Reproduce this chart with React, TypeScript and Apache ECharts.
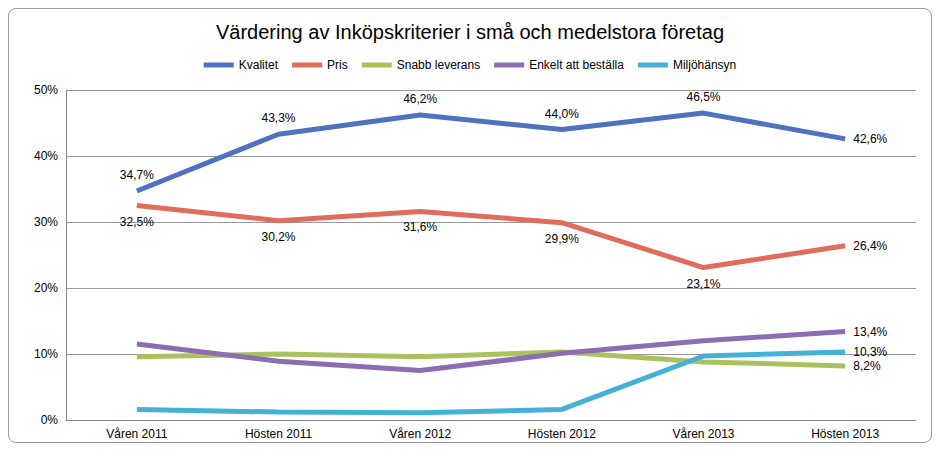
import React, { useEffect, useRef } from 'react';
import * as echarts from 'echarts';

const categories = ['Våren 2011', 'Hösten 2011', 'Våren 2012', 'Hösten 2012', 'Våren 2013', 'Hösten 2013'];
const kvalitet = [34.7, 43.3, 46.2, 44.0, 46.5, 42.6];
const pris = [32.5, 30.2, 31.6, 29.9, 23.1, 26.4];
const snabb = [9.6, 10.0, 9.6, 10.3, 8.8, 8.2];
const enkelt = [11.5, 8.9, 7.5, 10.1, 12.0, 13.4];
const miljo = [1.6, 1.2, 1.1, 1.6, 9.7, 10.3];

const fmt = (v: number) => v.toFixed(1).replace('.', ',') + '%';

const App: React.FC = () => {
  const chartRef = useRef<HTMLDivElement>(null);

  useEffect(() => {
    if (!chartRef.current) return;
    const chart = echarts.init(chartRef.current, undefined, { renderer: 'svg' });

    const labelAll = (pos: string) => ({
      show: true,
      position: pos,
      distance: 10,
      color: '#000',
      fontSize: 12,
      formatter: (p: any) => fmt(p.value),
    });
    const lastLabel = { show: true, position: 'right', distance: 8, color: '#000', fontSize: 12, formatter: (p: any) => fmt(p.value) };
    const lastOnly = (data: number[]) =>
      data.map((v, i) => (i === data.length - 1 ? { value: v, label: lastLabel } : v));

    const mk = (name: string, color: string, data: any[], label?: any) => ({
      name,
      type: 'line',
      data,
      symbol: 'circle',
      symbolSize: 0.1,
      showSymbol: true,
      lineStyle: { width: 5, color },
      itemStyle: { color },
      label: label || { show: false },
    });

    const kvData = kvalitet.map((v, i) => (i === 5 ? { value: v, label: { position: 'right', distance: 8 } } : v));
    const prData = pris.map((v, i) => (i === 5 ? { value: v, label: { position: 'right', distance: 8 } } : v));

    chart.setOption({
      animation: false,
      title: {
        text: 'Värdering av Inköpskriterier i små och medelstora företag',
        left: 'center',
        top: 8,
        textStyle: { fontSize: 20, fontWeight: 'normal', color: '#000', fontFamily: 'Liberation Sans' },
      },
      textStyle: { fontFamily: 'Liberation Sans' },
      legend: {
        top: 45,
        left: 'center',
        icon: 'rect',
        itemWidth: 30,
        itemHeight: 5,
        itemGap: 14,
        textStyle: { fontSize: 12, color: '#000' },
      },
      grid: { left: 57, right: 15, top: 81, bottom: 22 },
      xAxis: {
        type: 'category',
        data: categories,
        axisLine: { lineStyle: { color: '#888' } },
        axisTick: { show: false },
        axisLabel: { color: '#000', fontSize: 12 },
      },
      yAxis: {
        type: 'value',
        min: 0,
        max: 50,
        interval: 10,
        axisLine: { show: true, lineStyle: { color: '#888' } },
        splitLine: { lineStyle: { color: '#999' } },
        axisLabel: { color: '#000', fontSize: 12, formatter: '{value}%' },
      },
      series: [
        mk('Kvalitet', '#4f72be', kvData, labelAll('top')),
        mk('Pris', '#e06c5c', prData, labelAll('bottom')),
        mk('Snabb leverans', '#a9c25e', lastOnly(snabb)),
        mk('Enkelt att beställa', '#8c6db2', lastOnly(enkelt)),
        mk('Miljöhänsyn', '#45b1d8', lastOnly(miljo)),
      ],
    });

    return () => chart.dispose();
  }, []);

  return (
    <div style={{ width: 924, height: 435, border: '1px solid #999', borderRadius: 8, boxSizing: 'border-box', overflow: 'hidden' }}>
      <div ref={chartRef} style={{ width: 922, height: 433 }} />
    </div>
  );
};

export default App;
